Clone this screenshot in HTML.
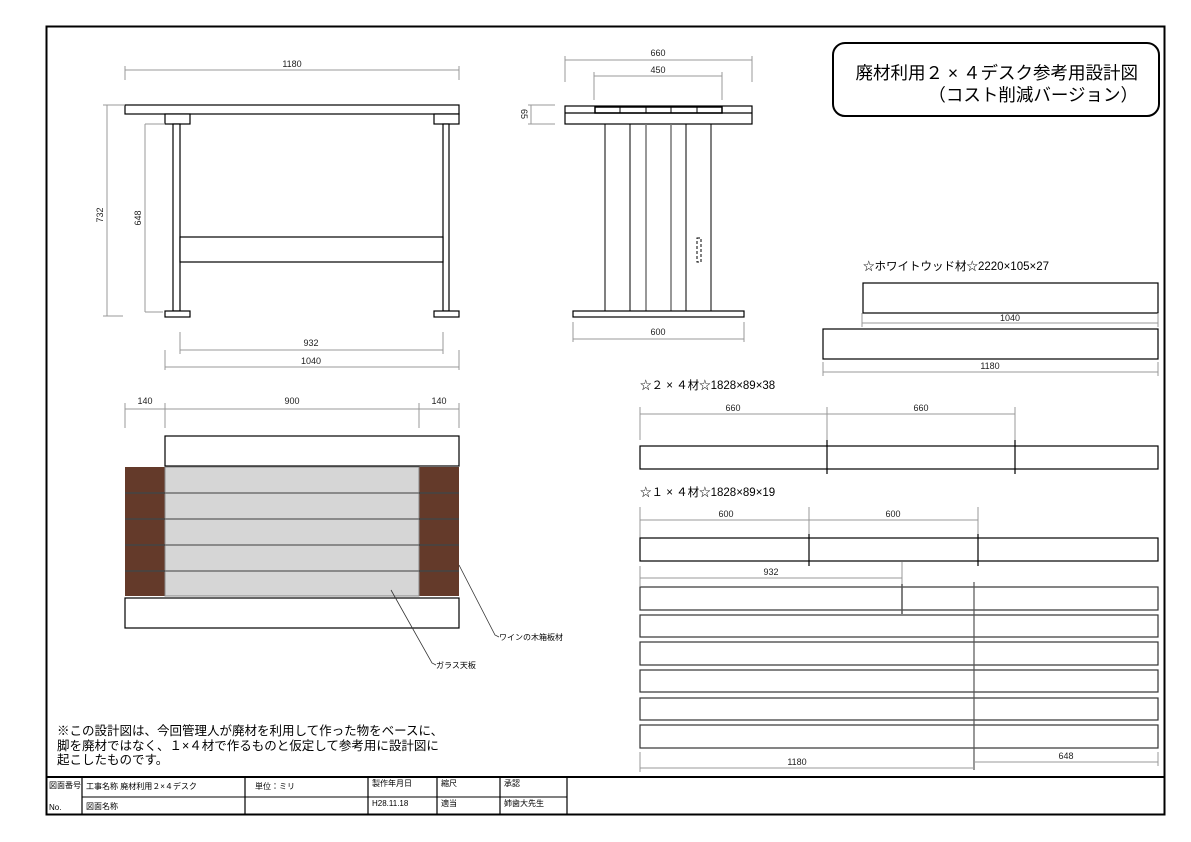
<!DOCTYPE html>
<html><head><meta charset="utf-8"><style>
html,body{margin:0;padding:0;background:#fff;}
svg{display:block;font-family:"Liberation Sans","Noto Sans CJK JP",sans-serif;}
.d{stroke:#999;stroke-width:1;fill:none}
.k{stroke:#000;stroke-width:1.2;fill:#fff}
.t{font-size:9px;fill:#222;text-anchor:middle}
.s{font-size:8px;fill:#000}
</style></head><body>
<svg width="1191" height="842" viewBox="0 0 1191 842" xmlns="http://www.w3.org/2000/svg">
<rect x="46.5" y="26.5" width="1118" height="788" fill="none" stroke="#000" stroke-width="2"/>
<line x1="46" y1="777" x2="1165" y2="777" stroke="#000" stroke-width="2"/>
<line x1="82" y1="797" x2="567" y2="797" stroke="#000" stroke-width="1"/>
<g stroke="#000" stroke-width="1.2">
<line x1="82" y1="777" x2="82" y2="815"/><line x1="245" y1="777" x2="245" y2="815"/>
<line x1="368" y1="777" x2="368" y2="815"/><line x1="437" y1="777" x2="437" y2="815"/>
<line x1="500" y1="777" x2="500" y2="815"/><line x1="567" y1="777" x2="567" y2="815"/>
</g>
<text class="s" x="49" y="788" font-size="7">図面番号</text>
<text class="s" x="49" y="810" font-size="7">No.</text>
<text class="s" x="86" y="789">工事名称 廃材利用２×４デスク</text>
<text class="s" x="86" y="809" font-size="7">図面名称</text>
<text class="s" x="255" y="789">単位：ミリ</text>
<text class="s" x="372" y="786" font-size="7">製作年月日</text>
<text class="s" x="372" y="806">H28.11.18</text>
<text class="s" x="441" y="786" font-size="7">縮尺</text>
<text class="s" x="441" y="806">適当</text>
<text class="s" x="504" y="786" font-size="7">承認</text>
<text class="s" x="504" y="806">姉歯大先生</text>
<rect x="833" y="43" width="326" height="73" rx="12" fill="#fff" stroke="#000" stroke-width="2"/>
<text x="1138" y="79" font-size="17.5" text-anchor="end">廃材利用２ × ４デスク参考用設計図</text>
<text x="1138" y="101" font-size="17.5" text-anchor="end">（コスト削減バージョン）</text>

<rect class="k" x="125" y="105" width="334" height="9"/>
<rect class="k" x="165" y="114" width="25" height="10"/>
<rect class="k" x="434" y="114" width="25" height="10"/>
<rect class="k" x="173" y="124" width="7" height="187"/>
<rect class="k" x="443" y="124" width="6" height="187"/>
<rect class="k" x="165" y="311" width="25" height="6"/>
<rect class="k" x="434" y="311" width="25" height="6"/>
<rect class="k" x="180" y="237" width="263" height="25"/>
<g class="d">
<line x1="107" y1="105" x2="107" y2="316"/><line x1="103" y1="105" x2="125" y2="105"/><line x1="103" y1="316" x2="123" y2="316"/>
<line x1="145" y1="124" x2="145" y2="312"/><line x1="145" y1="124" x2="165" y2="124"/><line x1="145" y1="312" x2="163" y2="312"/>
<line x1="125" y1="70" x2="459" y2="70"/><line x1="125" y1="66" x2="125" y2="80"/><line x1="459" y1="66" x2="459" y2="80"/>
<line x1="180" y1="350" x2="443" y2="350"/><line x1="180" y1="332" x2="180" y2="354"/><line x1="443" y1="332" x2="443" y2="354"/>
<line x1="165" y1="367" x2="459" y2="367"/><line x1="165" y1="350" x2="165" y2="370"/><line x1="459" y1="350" x2="459" y2="370"/>
</g>
<text class="t" x="292" y="67">1180</text>
<text class="t" transform="translate(103,215) rotate(-90)">732</text>
<text class="t" transform="translate(141,218) rotate(-90)">648</text>
<text class="t" x="311" y="346">932</text>
<text class="t" x="311" y="364">1040</text>

<rect class="k" x="565" y="106" width="187" height="18"/>
<line x1="565" y1="113" x2="752" y2="113" stroke="#000" stroke-width="1.2"/>
<rect x="595" y="107" width="127" height="6" fill="none" stroke="#000" stroke-width="1.5"/>
<g stroke="#000" stroke-width="1">
<line x1="595" y1="106" x2="595" y2="113"/><line x1="620" y1="107" x2="620" y2="113"/><line x1="646" y1="107" x2="646" y2="113"/><line x1="671" y1="107" x2="671" y2="113"/><line x1="697" y1="107" x2="697" y2="113"/><line x1="722" y1="106" x2="722" y2="113"/>
<line x1="605" y1="124" x2="605" y2="311"/><line x1="630" y1="124" x2="630" y2="311"/><line x1="686" y1="124" x2="686" y2="311"/><line x1="711" y1="124" x2="711" y2="311"/>
</g>
<g stroke="#777" stroke-width="1.5"><line x1="646" y1="124" x2="646" y2="311"/><line x1="671" y1="124" x2="671" y2="311"/></g>
<rect x="697" y="238" width="4" height="24" fill="none" stroke="#000" stroke-dasharray="3,2"/>
<rect class="k" x="573" y="311" width="171" height="6"/>
<g class="d">
<line x1="565" y1="60" x2="752" y2="60"/><line x1="565" y1="56" x2="565" y2="82"/><line x1="752" y1="56" x2="752" y2="82"/>
<line x1="594" y1="76" x2="722" y2="76"/><line x1="594" y1="72" x2="594" y2="100"/><line x1="722" y1="72" x2="722" y2="100"/>
<line x1="573" y1="339" x2="744" y2="339"/><line x1="573" y1="322" x2="573" y2="342"/><line x1="744" y1="322" x2="744" y2="342"/>
<line x1="531" y1="105" x2="531" y2="124"/><line x1="528" y1="105" x2="555" y2="105"/><line x1="528" y1="124" x2="555" y2="124"/>
</g>
<text class="t" x="658" y="56">660</text>
<text class="t" x="658" y="73">450</text>
<text class="t" x="658" y="335">600</text>
<text class="t" transform="translate(521,114) rotate(90)">65</text>

<g class="d">
<line x1="125" y1="409" x2="459" y2="409"/>
<line x1="125" y1="403" x2="125" y2="428"/><line x1="165" y1="403" x2="165" y2="428"/><line x1="419" y1="403" x2="419" y2="428"/><line x1="459" y1="403" x2="459" y2="428"/>
</g>
<text class="t" x="145" y="404">140</text><text class="t" x="292" y="404">900</text><text class="t" x="439" y="404">140</text>
<rect class="k" x="165" y="436" width="294" height="30"/>
<rect x="125" y="467" width="334" height="129" fill="#643a2a"/>
<rect x="165" y="467" width="254" height="129" fill="#d6d6d6" stroke="#888" stroke-width="1"/>
<g stroke="#444" stroke-width="1.5">
<line x1="125" y1="493" x2="459" y2="493"/><line x1="125" y1="519" x2="459" y2="519"/><line x1="125" y1="545" x2="459" y2="545"/><line x1="125" y1="571" x2="459" y2="571"/>
</g>
<g stroke="#888" stroke-width="1">
<line x1="165" y1="493" x2="419" y2="493"/><line x1="165" y1="519" x2="419" y2="519"/><line x1="165" y1="545" x2="419" y2="545"/><line x1="165" y1="571" x2="419" y2="571"/>
</g>
<rect class="k" x="125" y="598" width="334" height="30"/>
<polyline points="391,590 432,663 436,665" fill="none" stroke="#333" stroke-width="0.8"/>
<polyline points="459,565 495,635 499,637" fill="none" stroke="#333" stroke-width="0.8"/>
<text class="s" x="436" y="668">ガラス天板</text>
<text class="s" x="499" y="640">ワインの木箱板材</text>

<text x="57" y="735" font-size="12.5">※この設計図は、今回管理人が廃材を利用して作った物をベースに、</text>
<text x="57" y="750" font-size="12.5">脚を廃材ではなく、１×４材で作るものと仮定して参考用に設計図に</text>
<text x="57" y="764" font-size="12.5">起こしたものです。</text>

<text x="863" y="270" font-size="11.5">☆ホワイトウッド材☆2220×105×27</text>
<rect class="k" x="863" y="283" width="295" height="30"/>
<g class="d"><line x1="862" y1="323" x2="1158" y2="323"/><line x1="862" y1="313" x2="862" y2="327"/><line x1="1158" y1="313" x2="1158" y2="327"/></g>
<text class="t" x="1010" y="321">1040</text>
<rect class="k" x="823" y="329" width="335" height="30"/>
<g class="d"><line x1="823" y1="372" x2="1158" y2="372"/><line x1="823" y1="362" x2="823" y2="376"/><line x1="1158" y1="362" x2="1158" y2="376"/></g>
<text class="t" x="990" y="369">1180</text>

<text x="640" y="389" font-size="11.5">☆２ × ４材☆1828×89×38</text>
<g class="d"><line x1="640" y1="414" x2="1015" y2="414"/><line x1="640" y1="407" x2="640" y2="440"/><line x1="827" y1="407" x2="827" y2="440"/><line x1="1015" y1="407" x2="1015" y2="440"/></g>
<text class="t" x="733" y="411">660</text><text class="t" x="921" y="411">660</text>
<rect class="k" x="640" y="446" width="518" height="23"/>
<g stroke="#000" stroke-width="1.2"><line x1="827" y1="440" x2="827" y2="474"/><line x1="1015" y1="440" x2="1015" y2="474"/></g>

<text x="640" y="496" font-size="11.5">☆１ × ４材☆1828×89×19</text>
<g class="d"><line x1="640" y1="520" x2="978" y2="520"/><line x1="640" y1="507" x2="640" y2="538"/><line x1="809" y1="507" x2="809" y2="534"/><line x1="978" y1="507" x2="978" y2="534"/></g>
<text class="t" x="726" y="517">600</text><text class="t" x="893" y="517">600</text>
<rect class="k" x="640" y="538" width="518" height="23"/>
<g stroke="#000" stroke-width="1.2"><line x1="809" y1="534" x2="809" y2="566"/><line x1="978" y1="534" x2="978" y2="566"/></g>
<g class="d"><line x1="640" y1="578" x2="902" y2="578"/><line x1="640" y1="566" x2="640" y2="586"/><line x1="902" y1="562" x2="902" y2="586"/></g>
<text class="t" x="771" y="575">932</text>
<g fill="#fff" stroke="#333" stroke-width="1.2">
<rect x="640" y="587" width="518" height="23"/><rect x="640" y="615" width="518" height="22"/>
<rect x="640" y="642" width="518" height="23"/><rect x="640" y="670" width="518" height="22"/>
<rect x="640" y="698" width="518" height="22"/><rect x="640" y="725" width="518" height="23"/>
</g>
<line x1="902" y1="584" x2="902" y2="614" stroke="#555" stroke-width="1.5"/>
<line x1="974" y1="582" x2="974" y2="770" stroke="#555" stroke-width="1.2"/>
<g class="d"><line x1="640" y1="768" x2="974" y2="768"/><line x1="640" y1="752" x2="640" y2="772"/>
<line x1="974" y1="762" x2="1158" y2="762"/><line x1="1158" y1="752" x2="1158" y2="766"/></g>
<text class="t" x="797" y="765">1180</text><text class="t" x="1066" y="759">648</text>
</svg>
</body></html>
